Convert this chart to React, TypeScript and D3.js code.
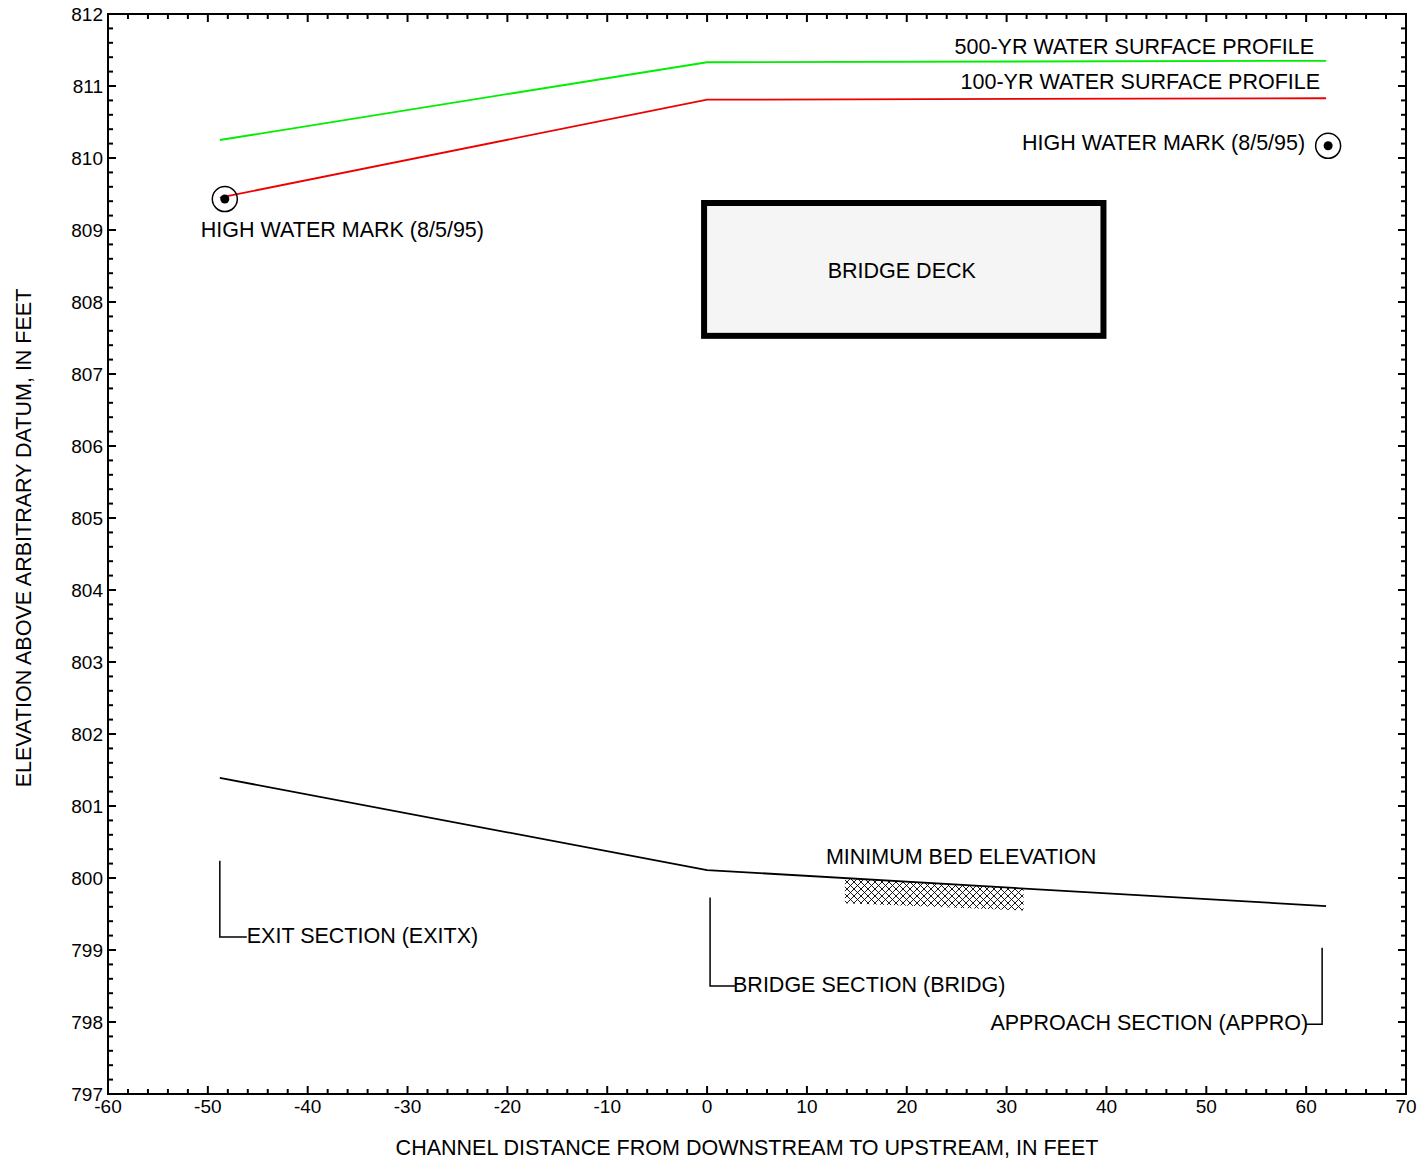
import React, { useEffect, useRef } from 'react';
import * as d3 from 'd3';

// channel distance stations (feet)
const stations = [-48.8, 0, 62];
const wsp500 = [810.25, 811.33, 811.35];
const wsp100 = [809.45, 810.81, 810.83];
const minBed = [801.39, 800.11, 799.61];

const xTicks = [-60, -50, -40, -30, -20, -10, 0, 10, 20, 30, 40, 50, 60, 70];
const yTicks = [797, 798, 799, 800, 801, 802, 803, 804, 805, 806, 807, 808, 809, 810, 811, 812];

// high water marks [x, elevation]
const highWater = [[-48.3, 809.43], [62.2, 810.17]];

// bridge deck extents
const deckX = [-0.3, 39.7];
const deckY = [807.53, 809.375];

// scour hatch: top edge follows bed, bottom edge
const hatchX = [13.8, 31.7];
const hatchBottom = [799.65, 799.55];

// section markers: x station, top elev, bottom elev, elbow end x
const sections = [
    { x: -48.8, top: 800.24, bottom: 799.18, end: -46.1 },
    { x: 0.3, top: 799.73, bottom: 798.5, end: 2.8 },
    { x: 61.6, top: 799.03, bottom: 797.97, end: 60.0 },
];

const labels = [
    { text: '500-YR WATER SURFACE PROFILE', x: 60.8, y: 811.44, anchor: 'end' },
    { text: '100-YR WATER SURFACE PROFILE', x: 61.4, y: 810.96, anchor: 'end' },
    { text: 'HIGH WATER MARK (8/5/95)', x: 59.9, y: 810.11, anchor: 'end' },
    { text: 'HIGH WATER MARK (8/5/95)', x: -50.7, y: 808.9, anchor: 'start' },
    { text: 'BRIDGE DECK', x: 19.5, y: 808.33, anchor: 'middle' },
    { text: 'MINIMUM BED ELEVATION', x: 11.9, y: 800.19, anchor: 'start' },
    { text: 'EXIT SECTION (EXITX)', x: -46.1, y: 799.1, anchor: 'start' },
    { text: 'BRIDGE SECTION (BRIDG)', x: 2.6, y: 798.42, anchor: 'start' },
    { text: 'APPROACH SECTION (APPRO)', x: 60.2, y: 797.89, anchor: 'end' },
];

const FONT = '"Liberation Sans", Arial, sans-serif';

const ProfileChart = ({ width, height }) => {
    const svgRef = useRef();

    useEffect(() => {
        document.body.style.margin = '0';
        const svg = d3.select(svgRef.current);
        svg.selectAll('*').remove();

        const margin = { top: 14, right: 14, bottom: 67, left: 108 };
        const innerWidth = width - margin.left - margin.right;
        const innerHeight = height - margin.top - margin.bottom;

        const xScale = d3.scaleLinear().domain([-60, 70]).range([margin.left, margin.left + innerWidth]);
        const yScale = d3.scaleLinear().domain([797, 812]).range([margin.top + innerHeight, margin.top]);

        // hatch pattern
        const defs = svg.append('defs');
        const pat = defs.append('pattern')
            .attr('id', 'xhatch')
            .attr('patternUnits', 'userSpaceOnUse')
            .attr('width', 7)
            .attr('height', 7);
        pat.append('path').attr('d', 'M0,0 L7,7 M7,0 L0,7 M-1,6 L1,8 M6,-1 L8,1')
            .attr('stroke', '#000').attr('stroke-width', 0.9);

        const g = svg.append('g');

        // axes: ticks inward on all sides
        const x0 = margin.left, x1 = margin.left + innerWidth;
        const y0 = margin.top, y1 = margin.top + innerHeight;

        const xMinor = d3.range(-60, 70.001, 2);
        const yMinor = d3.range(797, 812.001, 0.2);
        const tickG = g.append('g').attr('stroke', '#000').attr('stroke-width', 2);
        xMinor.forEach(v => {
            const major = Math.abs(v % 10) < 1e-6;
            const len = major ? 8 : 5;
            tickG.append('line').attr('x1', xScale(v)).attr('x2', xScale(v)).attr('y1', y1).attr('y2', y1 - len);
            tickG.append('line').attr('x1', xScale(v)).attr('x2', xScale(v)).attr('y1', y0).attr('y2', y0 + len);
        });
        yMinor.forEach(v => {
            const major = Math.abs(v - Math.round(v)) < 1e-6;
            const len = major ? 8 : 5;
            tickG.append('line').attr('x1', x0).attr('x2', x0 + len).attr('y1', yScale(v)).attr('y2', yScale(v));
            tickG.append('line').attr('x1', x1).attr('x2', x1 - len).attr('y1', yScale(v)).attr('y2', yScale(v));
        });

        g.append('rect')
            .attr('x', x0).attr('y', y0)
            .attr('width', innerWidth).attr('height', innerHeight)
            .attr('fill', 'none').attr('stroke', '#000').attr('stroke-width', 2);

        // tick labels
        g.append('g').selectAll('text')
            .data(xTicks)
            .enter().append('text')
            .attr('x', d => xScale(d))
            .attr('y', y1 + 19)
            .attr('text-anchor', 'middle')
            .attr('font-family', FONT).attr('font-size', '19px')
            .text(d => d);

        g.append('g').selectAll('text')
            .data(yTicks)
            .enter().append('text')
            .attr('x', x0 - 5)
            .attr('y', d => yScale(d) + 7)
            .attr('text-anchor', 'end')
            .attr('font-family', FONT).attr('font-size', '19px')
            .text(d => d);

        // axis titles
        g.append('text')
            .attr('x', (x0 + x1) / 2 - 10)
            .attr('y', height - 6)
            .attr('text-anchor', 'middle')
            .attr('font-family', FONT).attr('font-size', '21.5px')
            .text('CHANNEL DISTANCE FROM DOWNSTREAM TO UPSTREAM, IN FEET');

        g.append('text')
            .attr('transform', `translate(31,${(y0 + y1) / 2 - 16}) rotate(-90)`)
            .attr('text-anchor', 'middle')
            .attr('font-family', FONT).attr('font-size', '21.5px')
            .text('ELEVATION ABOVE ARBITRARY DATUM, IN FEET');

        // bridge deck
        g.append('rect')
            .attr('x', xScale(deckX[0]))
            .attr('y', yScale(deckY[1]))
            .attr('width', xScale(deckX[1]) - xScale(deckX[0]))
            .attr('height', yScale(deckY[0]) - yScale(deckY[1]))
            .attr('fill', '#f5f5f5')
            .attr('stroke', '#000')
            .attr('stroke-width', 6);

        // scour hatch under bed
        const bedAt = d3.scaleLinear().domain(stations).range(minBed);
        const hatchPts = [
            [hatchX[0], bedAt(hatchX[0])],
            [hatchX[1], bedAt(hatchX[1])],
            [hatchX[1], hatchBottom[1]],
            [hatchX[0], hatchBottom[0]],
        ];
        g.append('path')
            .attr('d', d3.line().x(d => xScale(d[0])).y(d => yScale(d[1]))(hatchPts) + 'Z')
            .attr('fill', 'url(#xhatch)');

        const line = d3.line()
            .x(d => xScale(d[0]))
            .y(d => yScale(d[1]));

        const series = [
            { values: wsp500, color: '#00ee00' },
            { values: wsp100, color: '#ee0000' },
            { values: minBed, color: '#000' },
        ];
        series.forEach(s => {
            g.append('path')
                .datum(stations.map((x, i) => [x, s.values[i]]))
                .attr('fill', 'none')
                .attr('stroke', s.color)
                .attr('stroke-width', 1.8)
                .attr('d', line);
        });

        // high water marks
        highWater.forEach(([x, y]) => {
            g.append('circle')
                .attr('cx', xScale(x)).attr('cy', yScale(y))
                .attr('r', 12.5)
                .attr('fill', 'none').attr('stroke', '#000').attr('stroke-width', 1.5);
            g.append('circle')
                .attr('cx', xScale(x)).attr('cy', yScale(y))
                .attr('r', 4.5)
                .attr('fill', '#000');
        });

        // section markers
        sections.forEach(s => {
            g.append('path')
                .attr('d', `M${xScale(s.x)},${yScale(s.top)} L${xScale(s.x)},${yScale(s.bottom)} L${xScale(s.end)},${yScale(s.bottom)}`)
                .attr('fill', 'none')
                .attr('stroke', '#000')
                .attr('stroke-width', 1.5);
        });

        // annotations
        labels.forEach(l => {
            g.append('text')
                .attr('x', xScale(l.x))
                .attr('y', yScale(l.y))
                .attr('text-anchor', l.anchor)
                .attr('font-family', FONT)
                .attr('font-size', '21.5px')
                .text(l.text);
        });

        svg.attr('width', width);
        svg.attr('height', height);
    }, [width, height]);

    return <svg ref={svgRef} width={width} height={height} style={{ display: 'block' }} />;
};

export default function App() {
    return <ProfileChart width={1420} height={1161} />;
}
